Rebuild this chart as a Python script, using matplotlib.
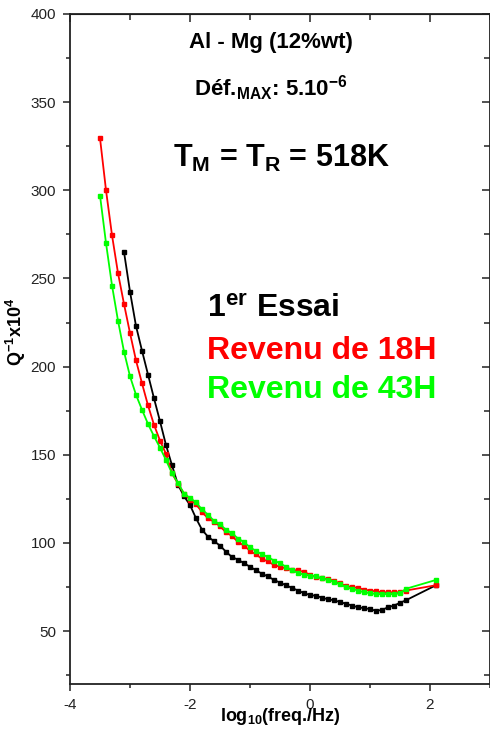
import matplotlib
matplotlib.use('Agg')
import matplotlib.pyplot as plt
from matplotlib.ticker import MultipleLocator

plt.rcParams['font.family'] = ['Liberation Sans', 'DejaVu Sans']
plt.rcParams['mathtext.default'] = 'regular'
plt.rcParams['axes.unicode_minus'] = False

# log10 de la fréquence (Hz)
log_f_essai = [-3.1, -3.0, -2.9, -2.8, -2.7, -2.6, -2.5, -2.4, -2.3, -2.2,
               -2.1, -2.0, -1.9, -1.8, -1.7, -1.6, -1.5, -1.4, -1.3, -1.2,
               -1.1, -1.0, -0.9, -0.8, -0.7, -0.6, -0.5, -0.4, -0.3, -0.2,
               -0.1, 0.0, 0.1, 0.2, 0.3, 0.4, 0.5, 0.6, 0.7, 0.8,
               0.9, 1.0, 1.1, 1.2, 1.3, 1.4, 1.5, 1.6, 2.1]
log_f_revenu = [-3.5, -3.4, -3.3, -3.2] + log_f_essai

# frottement interne Q^-1 x 10^4
q_essai = [265, 242.5, 223, 209, 195.5, 182, 169, 155.5, 144, 133,
           126.5, 121.5, 114, 107.5, 103.5, 101, 98.5, 95, 92, 90.5,
           88.5, 86.5, 84.5, 82.5, 81, 79, 77.5, 76, 74.5, 73,
           71.5, 70.5, 70, 69, 68, 67.5, 66.5, 65.5, 64.5, 63.5,
           63, 62.5, 61.5, 62, 63.5, 64.5, 66, 67.5, 76]
q_18h = [329.5, 300, 274.5, 253, 235.5, 219, 203.5, 190.5, 178, 167,
         158, 150.5, 139.5, 133.5, 128, 124.5, 122, 117.5, 114, 112,
         109.5, 106, 104, 100.5, 98.5, 95.5, 93.5, 91, 89.5, 87.5,
         86.5, 85.5, 84.5, 84.5, 83.5, 82, 80.5, 80, 79.5, 78.5,
         77, 75.5, 75, 74.5, 73.5, 73, 72.5, 72, 72, 72,
         72, 73, 76]
q_43h = [297, 270, 246, 226, 208.5, 194.5, 184, 175.5, 167.5, 160.5,
         154, 147, 139.5, 134, 128, 125.5, 123, 119, 116, 112.5,
         110.5, 107.5, 105.5, 102.5, 100.5, 97.5, 95.5, 93.5, 92, 90,
         88.5, 86.5, 84.5, 83, 82, 81.5, 81, 80, 79, 78,
         76.5, 75, 74, 73, 72, 71.5, 71, 71, 71, 71,
         71.5, 74, 79]

fig = plt.figure(figsize=(4.9, 7.35), dpi=100)
ax = fig.add_axes([0.1429, 0.0694, 0.857, 0.9116])

ax.plot(log_f_essai, q_essai, '-s', color='black', lw=1.3, ms=3.2)
ax.plot(log_f_revenu, q_18h, '-s', color='#ff0000', lw=1.3, ms=3.2)
ax.plot(log_f_revenu, q_43h, '-s', color='#00ff00', lw=1.3, ms=3.2)

ax.set_xlim(-4, 3)
ax.set_ylim(20, 400)
ax.xaxis.set_major_locator(MultipleLocator(2))
ax.xaxis.set_minor_locator(MultipleLocator(1))
ax.yaxis.set_major_locator(MultipleLocator(50))
ax.yaxis.set_minor_locator(MultipleLocator(25))
ax.set_yticks([50, 100, 150, 200, 250, 300, 350, 400])

for s in ax.spines.values():
    s.set_linewidth(1.3)
    s.set_color('#222222')
ax.tick_params(which='both', direction='out', top=False, right=False,
               width=1.1, color='#222222', labelsize=11, labelcolor='#222222')
ax.tick_params(which='major', length=5, pad=5)
ax.tick_params(which='minor', length=3)

# graduations miroir, vers l'intérieur
sec_x = ax.secondary_xaxis('top')
sec_x.xaxis.set_major_locator(MultipleLocator(2))
sec_x.xaxis.set_minor_locator(MultipleLocator(1))
sec_x.tick_params(which='both', direction='in', labeltop=False, width=1.1, color='#222222')
sec_x.tick_params(which='major', length=6)
sec_x.tick_params(which='minor', length=4)
sec_y = ax.secondary_yaxis('right')
sec_y.yaxis.set_major_locator(MultipleLocator(50))
sec_y.yaxis.set_minor_locator(MultipleLocator(25))
sec_y.tick_params(which='both', direction='in', labelright=False, width=1.1, color='#222222')
sec_y.tick_params(which='major', length=6)
sec_y.tick_params(which='minor', length=4)

ax.set_xlabel('log$_{10}$(freq./Hz)', fontsize=13, fontweight='bold', labelpad=-4)
ax.set_ylabel('Q$^{-1}$x10$^{4}$', fontsize=13, fontweight='bold')
ax.yaxis.set_label_coords(-0.1, 0.525)

ax.text(-0.65, 384, 'Al - Mg (12%wt)', fontsize=16, fontweight='bold',
        ha='center', va='center')
ax.text(-0.65, 358, 'Déf.$_{MAX}$: 5.10$^{-6}$', fontsize=16, fontweight='bold',
        ha='center', va='center')
ax.text(-0.48, 318, 'T$_{M}$ = T$_{R}$ = 518K', fontsize=22, fontweight='bold',
        ha='center', va='center')

ax.text(-1.72, 232, '1$^{er}$ Essai', fontsize=23, fontweight='bold',
        color='black', ha='left', va='center')
ax.text(-1.72, 209, 'Revenu de 18H', fontsize=23, fontweight='bold',
        color='#ff0000', ha='left', va='center')
ax.text(-1.72, 186.5, 'Revenu de 43H', fontsize=23, fontweight='bold',
        color='#00ff00', ha='left', va='center')

fig.savefig('out.png', dpi=100)
